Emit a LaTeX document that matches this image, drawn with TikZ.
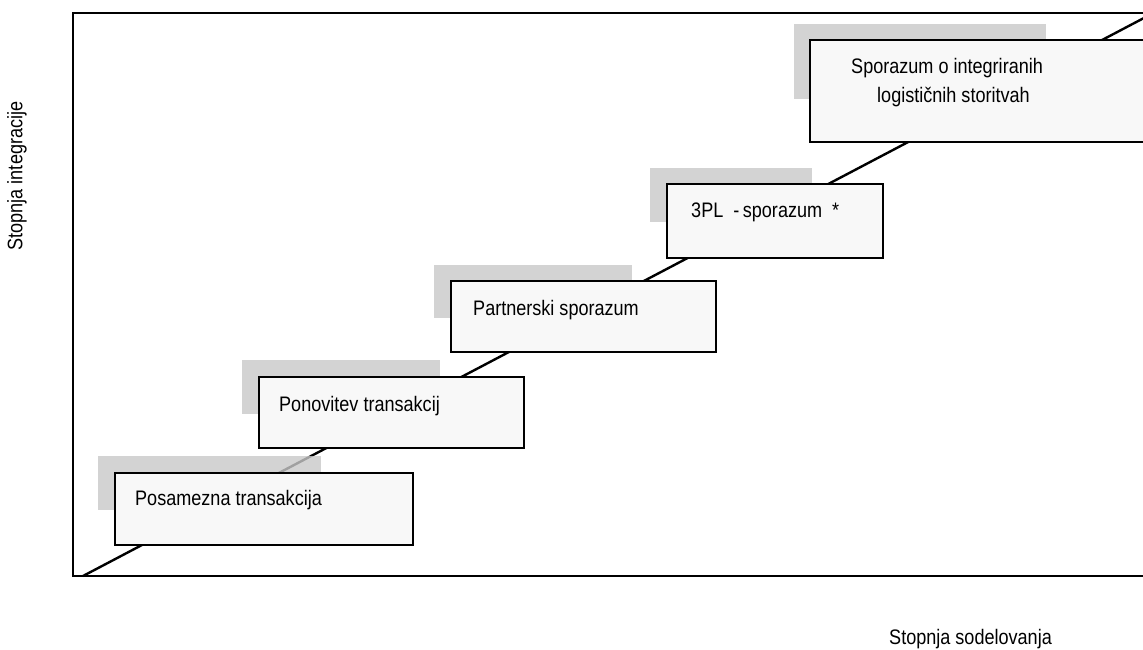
\documentclass[tikz,border=0pt]{standalone}
\usepackage{fontspec}
\setmainfont{Liberation Sans}[FakeStretch=0.86]
\definecolor{shadowgray}{RGB}{200,200,200}
\definecolor{boxfill}{RGB}{248,248,248}
\begin{document}
\begin{tikzpicture}[x=1pt,y=-1pt,
  frameline/.style={line width=2.6pt,black},
  diag/.style={line width=2.4pt,black},
  shadowbox/.style={fill=shadowgray,fill opacity=0.8,draw=none},
  stepbox/.style={draw=black,line width=1.8pt,fill=boxfill,anchor=north west,inner sep=0pt},
  lbl/.style={font=\fontsize{21}{29}\selectfont,anchor=base west,inner sep=0pt,align=left}]
\useasboundingbox (0,0) rectangle (1143,650);
\clip (0,0) rectangle (1143,650);
\fill[white] (0,0) rectangle (1143,650);
% frame
\coordinate (ftr) at (1150,13);
\coordinate (ftl) at (73,13);
\coordinate (fbl) at (73,576);
\coordinate (fbr) at (1150,576);
\draw[frameline] (ftr) -- (ftl) -- (fbl) -- (fbr);
% diagonal
\coordinate (d0) at (83,576);
\coordinate (d1) at (1150,14.8);
\draw[diag] (d0) -- (d1);
% shadows
\fill[shadowbox] (98,456) rectangle (321,510);
\fill[shadowbox] (242,360) rectangle (440,414);
\fill[shadowbox] (434,265) rectangle (632,318);
\fill[shadowbox] (650,168) rectangle (812,222);
\fill[shadowbox] (794,24) rectangle (1046,99);
% boxes
\node[stepbox,minimum width=298pt,minimum height=72pt] (b1) at (114,472) {};
\node[stepbox,minimum width=265pt,minimum height=71pt] (b2) at (258,376) {};
\node[stepbox,minimum width=265pt,minimum height=71pt] (b3) at (450,280) {};
\node[stepbox,minimum width=216pt,minimum height=74pt] (b4) at (666,183) {};
\node[stepbox,minimum width=350pt,minimum height=102pt] (b5) at (809,39) {};
% texts
\node[lbl] (t1) at ([xshift=21pt,yshift=-33pt]b1.north west) {Posamezna transakcija};
\node[lbl] (t2) at ([xshift=21pt,yshift=-35pt]b2.north west) {Ponovitev transakcij};
\node[lbl] (t3) at ([xshift=23pt,yshift=-35pt]b3.north west) {Partnerski sporazum};
\node[lbl] (t4) at ([xshift=25pt,yshift=-34pt]b4.north west) {3PL\ \ -\,sporazum\ \ *};
\node[lbl] (t5) at ([xshift=42pt,yshift=-64pt]b5.north west) {Sporazum o integriranih\\\hspace*{26pt}logističnih storitvah};
% axis labels
\node[font=\fontsize{21}{24}\selectfont,rotate=90,inner sep=0pt] (ylab) at (17,176) {Stopnja integracije};
\node[font=\fontsize{21}{24}\selectfont,anchor=base west,inner sep=0pt] (xlab) at (889,644) {Stopnja sodelovanja};
\end{tikzpicture}
\end{document}
